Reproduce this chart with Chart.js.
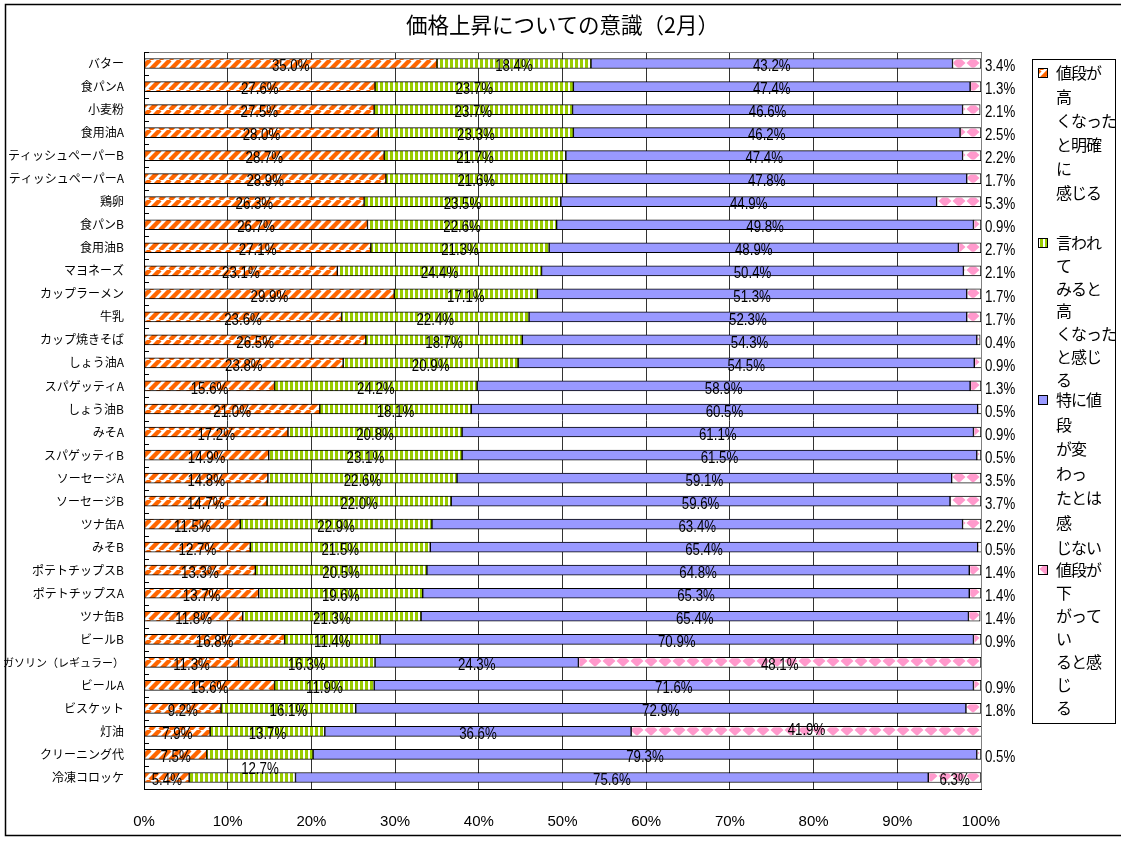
<!DOCTYPE html>
<html>
<head>
<meta charset="utf-8">
<script src="https://cdn.jsdelivr.net/npm/chart.js@4.4.1/dist/chart.umd.min.js"></script>
<style>
    html, body { margin: 0; padding: 0; background: #fff; }
</style>
</head>
<body>
<canvas id="chart" width="1121" height="843"></canvas>
<script>
const chartTitle = '価格上昇についての意識（2月）';

const categories = [
    'バター', '食パンA', '小麦粉', '食用油A', 'ティッシュペーパーB', 'ティッシュペーパーA',
    '鶏卵', '食パンB', '食用油B', 'マヨネーズ', 'カップラーメン', '牛乳', 'カップ焼きそば',
    'しょう油A', 'スパゲッティA', 'しょう油B', 'みそA', 'スパゲッティB', 'ソーセージA',
    'ソーセージB', 'ツナ缶A', 'みそB', 'ポテトチップスB', 'ポテトチップスA', 'ツナ缶B',
    'ビールB', 'ガソリン（レギュラー）', 'ビールA', 'ビスケット', '灯油', 'クリーニング代', '冷凍コロッケ'
];

const clearlyHigher = [35.0, 27.6, 27.5, 28.0, 28.7, 28.9, 26.3, 26.7, 27.1, 23.1, 29.9, 23.6, 26.5,
    23.8, 15.6, 21.0, 17.2, 14.9, 14.8, 14.7, 11.5, 12.7, 13.3, 13.7, 11.8, 16.8, 11.3, 15.6, 9.2, 7.9, 7.5, 5.4];
const higherWhenTold = [18.4, 23.7, 23.7, 23.3, 21.7, 21.6, 23.5, 22.6, 21.3, 24.4, 17.1, 22.4, 18.7,
    20.9, 24.2, 18.1, 20.8, 23.1, 22.6, 22.0, 22.9, 21.5, 20.5, 19.6, 21.3, 11.4, 16.3, 11.9, 16.1, 13.7, 12.7, 12.7];
const noChange = [43.2, 47.4, 46.6, 46.2, 47.4, 47.8, 44.9, 49.8, 48.9, 50.4, 51.3, 52.3, 54.3,
    54.5, 58.9, 60.5, 61.1, 61.5, 59.1, 59.6, 63.4, 65.4, 64.8, 65.3, 65.4, 70.9, 24.3, 71.6, 72.9, 36.6, 79.3, 75.6];
const lower = [3.4, 1.3, 2.1, 2.5, 2.2, 1.7, 5.3, 0.9, 2.7, 2.1, 1.7, 1.7, 0.4,
    0.9, 1.3, 0.5, 0.9, 0.5, 3.5, 3.7, 2.2, 0.5, 1.4, 1.4, 1.4, 0.9, 48.1, 0.9, 1.8, 41.9, 0.5, 6.3];

// legend text, broken into lines the way the original wraps it
const legendLines = [
    ['値段が', '高', 'くなった', 'と明確', 'に', '感じる'],
    ['言われ', 'て', 'みると', '高', 'くなった', 'と感じ', 'る'],
    ['特に値', '段', 'が変', 'わっ', 'たとは', '感', 'じない'],
    ['値段が', '下', 'がって', 'い', 'ると感', 'じ', 'る']
];
const seriesNames = legendLines.map(l => l.join(''));

const xTickValues = [0, 10, 20, 30, 40, 50, 60, 70, 80, 90, 100];

const JP = '"Noto Sans CJK JP", sans-serif';
const SANS = '"Liberation Sans", Arial, sans-serif';

// --- fill patterns ---
function makePattern(w, h, draw) {
    const c = document.createElement('canvas');
    c.width = w; c.height = h;
    const g = c.getContext('2d');
    draw(g, w, h);
    return document.createElement('canvas').getContext('2d').createPattern(c, 'repeat');
}

const orangeStripes = makePattern(10, 10, (g, w, h) => {
    g.fillStyle = '#fff'; g.fillRect(0, 0, w, h);
    g.strokeStyle = '#FF6600'; g.lineWidth = 4.4;
    for (let k = -1; k <= 1; k++) {
        g.beginPath(); g.moveTo(k * w, h); g.lineTo(k * w + w, 0); g.stroke();
    }
});
const greenStripes = makePattern(5, 4, (g, w, h) => {
    g.fillStyle = '#99CC00'; g.fillRect(0, 0, w, h);
    g.fillStyle = '#fff'; g.fillRect(3, 0, 2, h);
});
const blueFill = '#9999FF';
const pinkDiamonds = makePattern(14, 16, (g, w, h) => {
    g.fillStyle = '#fff'; g.fillRect(0, 0, w, h);
    g.fillStyle = '#FF99CC';
    [3, 3 + h].forEach(cy => {
        g.beginPath();
        g.moveTo(7, cy - 6); g.lineTo(13.5, cy); g.lineTo(7, cy + 6); g.lineTo(0.5, cy);
        g.closePath(); g.fill();
    });
});
const fills = [orangeStripes, greenStripes, blueFill, pinkDiamonds];

// labels that the original moves or leaves out ("row:series")
const labelShift = {'30:1': 12, '29:3': -4};
const hiddenLabels = ['31:1'];

const frameAndTitle = {
    id: 'frameAndTitle',
    beforeDatasetsDraw(chart) {
        const {ctx, chartArea} = chart;
        const yScale = chart.scales.y;
        ctx.save();
        // grey plot border on top and right
        ctx.strokeStyle = '#808080';
        ctx.lineWidth = 1;
        ctx.beginPath();
        ctx.moveTo(chartArea.left, chartArea.top + 0.5);
        ctx.lineTo(chartArea.right + 0.5, chartArea.top + 0.5);
        ctx.lineTo(chartArea.right + 0.5, chartArea.bottom);
        ctx.stroke();
        // small inside tick marks between categories
        const step = yScale.getPixelForValue(1) - yScale.getPixelForValue(0);
        ctx.strokeStyle = '#000';
        ctx.beginPath();
        for (let i = 0; i <= categories.length; i++) {
            const y = Math.round(yScale.getPixelForValue(i) - step / 2) + 0.5;
            ctx.moveTo(chartArea.left, y);
            ctx.lineTo(chartArea.left + 5, y);
        }
        ctx.stroke();
        ctx.restore();
    },
    afterDraw(chart) {
        const {ctx, chartArea} = chart;
        ctx.save();
        ctx.strokeStyle = '#000';
        ctx.lineWidth = 1.5;
        ctx.strokeRect(5.5, 4.5, 1125, 831);
        ctx.fillStyle = '#000';
        ctx.font = '21.5px ' + JP;
        ctx.textAlign = 'center';
        ctx.textBaseline = 'middle';
        ctx.fillText(chartTitle, (chartArea.left + chartArea.right) / 2, 25);
        ctx.restore();
    }
};

// narrow, tall figures like the original labels
function narrowText(ctx, text, x, y, align) {
    ctx.save();
    ctx.translate(x, y);
    ctx.scale(0.78, 1);
    ctx.textAlign = align;
    ctx.fillText(text, 0, 0);
    ctx.restore();
}

const barLabels = {
    id: 'barLabels',
    afterDatasetsDraw(chart) {
        const {ctx, chartArea} = chart;
        ctx.save();
        // fill the pink segments with the pattern lined up on each bar
        chart.getDatasetMeta(3).data.forEach(bar => {
            const {x, y, base, height} = bar.getProps(['x', 'y', 'base', 'height'], true);
            const top = y - height / 2;
            pinkDiamonds.setTransform(new DOMMatrix().translate(0, Math.round(top) + 1));
            ctx.fillStyle = pinkDiamonds;
            ctx.fillRect(base + 1, top + 1, x - base - 2, height - 2);
        });
        ctx.font = '17px ' + SANS;
        ctx.fillStyle = '#000';
        ctx.textBaseline = 'middle';
        chart.data.datasets.forEach((ds, di) => {
            chart.getDatasetMeta(di).data.forEach((bar, i) => {
                const key = i + ':' + di;
                if (hiddenLabels.includes(key)) return;
                const v = ds.data[i];
                let x = (bar.x + bar.base) / 2;
                const y = bar.y + 3 + (labelShift[key] || 0);
                let align = 'center';
                if (di === 3 && v < 6) {
                    align = 'left';
                    x = chartArea.right + 4;
                }
                narrowText(ctx, v.toFixed(1) + '%', x, y, align);
            });
        });
        ctx.restore();
    }
};

const sideLegend = {
    id: 'sideLegend',
    afterDraw(chart) {
        const ctx = chart.ctx;
        const starts = [73, 243, 400, 570];
        const lineH = [24, 22.8, 24.6, 23];
        ctx.save();
        ctx.strokeStyle = '#000';
        ctx.lineWidth = 1;
        ctx.strokeRect(1032.5, 59.5, 83, 664);
        ctx.font = '16px ' + JP;
        ctx.letterSpacing = '-1px';
        ctx.textBaseline = 'middle';
        ctx.textAlign = 'left';
        legendLines.forEach((lines, k) => {
            const y0 = starts[k];
            if (k === 3) pinkDiamonds.setTransform(new DOMMatrix().translate(3, y0 - 4));
            ctx.fillStyle = fills[k];
            ctx.fillRect(1038, y0 - 5, 10, 10);
            ctx.strokeRect(1038.5, y0 - 4.5, 9, 9);
            ctx.fillStyle = '#000';
            lines.forEach((t, j) => ctx.fillText(t, 1056, y0 + j * lineH[k]));
        });
        ctx.restore();
    }
};

const ctx = document.getElementById('chart').getContext('2d');
new Chart(ctx, {
    type: 'bar',
    data: {
        labels: categories,
        datasets: [clearlyHigher, higherWhenTold, noChange, lower].map((d, k) => ({
            label: seriesNames[k],
            data: d,
            backgroundColor: k === 3 ? '#fff' : fills[k],
            borderColor: '#000',
            borderWidth: 1,
            borderSkipped: false,
            barThickness: 10
        }))
    },
    options: {
        indexAxis: 'y',
        responsive: false,
        animation: false,
        devicePixelRatio: 1,
        layout: {padding: {top: 52, right: 140, bottom: 0, left: 0}},
        plugins: {
            legend: {display: false},
            title: {display: false},
            tooltip: {enabled: false}
        },
        scales: {
            x: {
                stacked: true,
                min: 0,
                max: 100,
                afterBuildTicks: scale => { scale.ticks = xTickValues.map(v => ({value: v})); },
                afterFit: scale => { scale.height = 54; },
                grid: {color: '#333', drawTicks: false},
                border: {color: '#000', width: 1},
                ticks: {
                    callback: v => v + '%',
                    padding: 24,
                    maxRotation: 0,
                    autoSkip: false,
                    color: '#000',
                    font: {family: SANS, size: 15}
                }
            },
            y: {
                stacked: true,
                afterFit: scale => { scale.width = 144; },
                grid: {display: false},
                border: {color: '#000', width: 1},
                ticks: {
                    autoSkip: false,
                    padding: 12,
                    color: '#000',
                    font: c => ({family: JP, size: categories[c.index] && categories[c.index].length > 10 ? 11 : 12})
                }
            }
        }
    },
    plugins: [frameAndTitle, barLabels, sideLegend]
});
</script>
</body>
</html>
